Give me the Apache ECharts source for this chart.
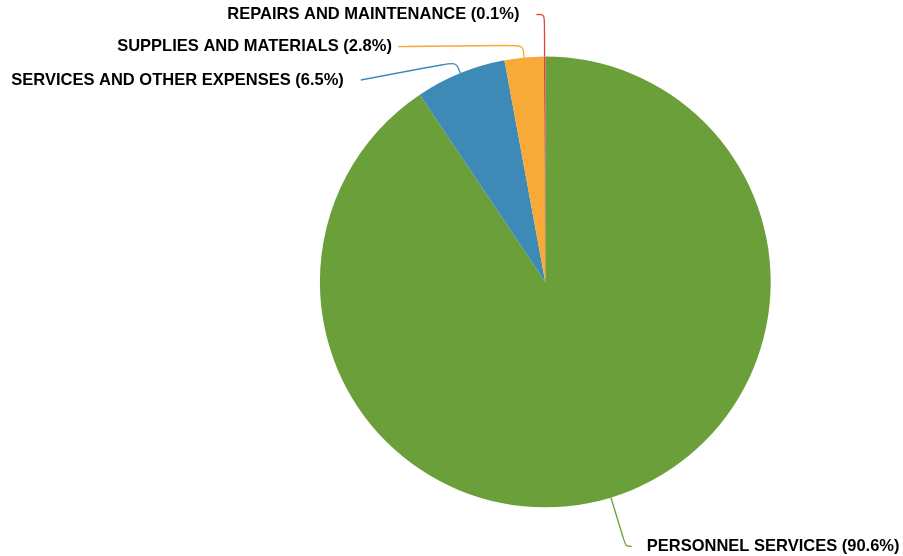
<!DOCTYPE html>
<html>
<head>
<meta charset="utf-8">
<script src="https://cdn.jsdelivr.net/npm/echarts@6/dist/echarts.min.js"></script>
<style>
  html, body { margin: 0; padding: 0; background: #ffffff; }
  #chart { width: 903px; height: 556px; }
</style>
</head>
<body>
<div id="chart"></div>
<script>
// Expense categories and their share of the total (percent)
const categories = [
  'PERSONNEL SERVICES',
  'SERVICES AND OTHER EXPENSES',
  'SUPPLIES AND MATERIALS',
  'REPAIRS AND MAINTENANCE'
];
const shares = [90.6, 6.5, 2.8, 0.1];

// Slice colours, in category order
const sliceColors = ['#6a9f3a', '#3e8ab7', '#f7aa38', '#e8403a'];

// Leader-line geometry per slice: radial length, horizontal length,
// gap to the text, and a vertical nudge of the text end
const leaderLength = [51, 12, 12.5, 42];
const leaderLength2 = [6, 95, 125, 8];
const textGap = [15, 17, 6, 17];
const textNudge = [0, 18, 1.5, 0];

const chart = echarts.init(document.getElementById('chart'), null, { renderer: 'canvas' });

const data = categories.map((name, i) => ({
  name: name,
  value: shares[i],
  itemStyle: { color: sliceColors[i] },
  label: { distanceToLabelLine: textGap[i] },
  labelLine: {
    length: leaderLength[i],
    length2: leaderLength2[i],
    lineStyle: { color: sliceColors[i] }
  }
}));

chart.setOption({
  animation: false,
  backgroundColor: '#ffffff',
  series: [{
    type: 'pie',
    center: [545.3, 281.9],
    radius: [0, 225.4],
    startAngle: 90,
    clockwise: true,
    avoidLabelOverlap: false,
    percentPrecision: 1,
    itemStyle: { borderWidth: 0 },
    label: {
      show: true,
      position: 'outside',
      alignTo: 'none',
      bleedMargin: 0,
      overflow: 'none',
      formatter: '{b} ({d}%)',
      fontFamily: '"Liberation Sans", Arial, Helvetica, sans-serif',
      fontWeight: 'bold',
      fontSize: 16.5,
      color: '#000000'
    },
    labelLine: {
      show: true,
      smooth: 0.3,
      lineStyle: { width: 1.3 }
    },
    labelLayout: function (params) {
      const shift = textNudge[params.dataIndex];
      if (!shift) return {};
      const pts = params.labelLinePoints.map(p => p.slice());
      pts[2][1] += shift;
      return {
        y: params.labelRect.y + params.labelRect.height / 2 + shift,
        labelLinePoints: pts
      };
    },
    emphasis: { disabled: true },
    data: data
  }]
});
</script>
</body>
</html>
